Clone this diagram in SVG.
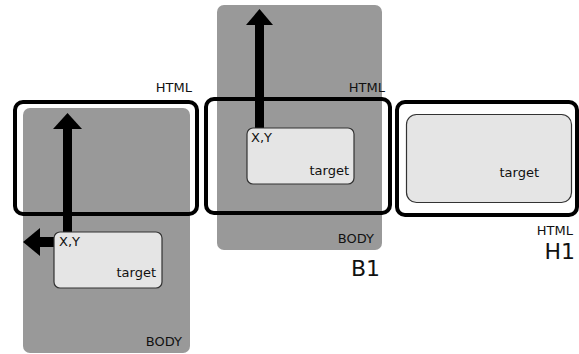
<svg xmlns="http://www.w3.org/2000/svg" width="579" height="354" viewBox="0 0 579 354">
<style>
.body{fill:#999999;stroke:none}
.html{fill:none;stroke:#000;stroke-width:4}
.tgt{fill:#e5e5e5;stroke:#333;stroke-width:1.2}
.t{font-family:"DejaVu Sans",sans-serif;font-size:13px;fill:#111}
.big{font-family:"DejaVu Sans",sans-serif;font-size:22px;fill:#111}
.arr{fill:#000}
</style>
<rect width="579" height="354" fill="#fff"/>
<g id="panel1">
  <rect class="body" x="23" y="108" width="167" height="245" rx="7"/>
  <rect class="html" x="15" y="102" width="182" height="112" rx="8"/>
  <text class="t" x="192" y="92" text-anchor="end">HTML</text>
  <text class="t" x="182" y="346" text-anchor="end">BODY</text>
</g>
<g id="panel2">
  <rect class="body" x="217" y="5" width="165" height="245" rx="7"/>
  <rect class="html" x="206" y="99" width="184" height="114" rx="8"/>
  <text class="t" x="385" y="92" text-anchor="end">HTML</text>
  <text class="t" x="374" y="243" text-anchor="end">BODY</text>
  <text class="big" x="380" y="276" text-anchor="end">B1</text>
</g>
<g id="panel3">
  <rect class="html" x="397" y="102" width="180" height="113" rx="8"/>
  <text class="t" x="573" y="235" text-anchor="end">HTML</text>
  <text class="big" x="575" y="259" text-anchor="end">H1</text>
</g>
<g id="connectors">
  <rect class="arr" x="63" y="126" width="9" height="107"/>
  <polygon class="arr" points="67.5,113 53,129 82,129"/>
  <rect class="arr" x="38" y="237" width="17" height="10"/>
  <polygon class="arr" points="23,242 40,228 40,256"/>
  <rect class="arr" x="255" y="22" width="9" height="106"/>
  <polygon class="arr" points="259.5,9 246,25 273,25"/>
</g>
<g id="target1">
  <rect class="tgt" x="54" y="232" width="108" height="56" rx="6"/>
  <text class="t" x="59" y="246">X,Y</text>
  <text class="t" x="156" y="277" text-anchor="end">target</text>
</g>
<g id="target2">
  <rect class="tgt" x="247" y="128" width="107" height="56" rx="6"/>
  <text class="t" x="251" y="142">X,Y</text>
  <text class="t" x="349" y="175" text-anchor="end">target</text>
</g>
<g id="target3">
  <rect class="tgt" x="406.5" y="114.5" width="165" height="88" rx="10"/>
  <text class="t" x="539" y="177" text-anchor="end">target</text>
</g>
</svg>
